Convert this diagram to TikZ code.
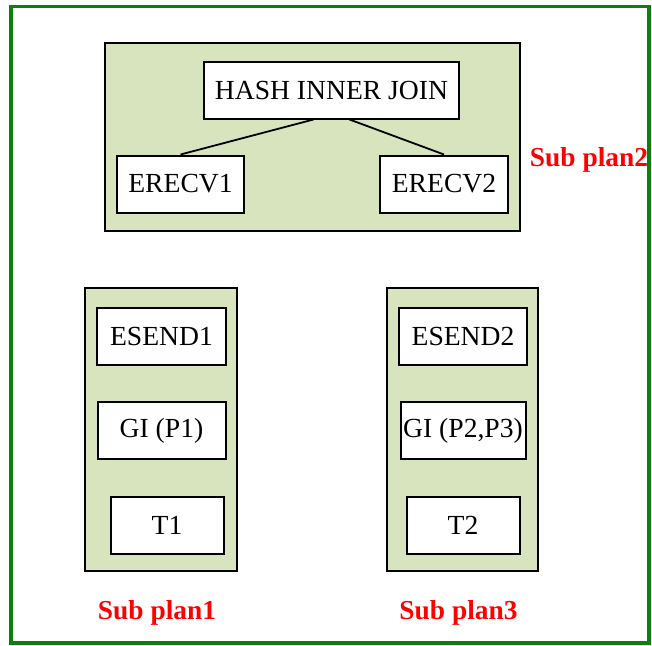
\documentclass[tikz,border=0pt]{standalone}
\usepackage{fontspec}
\setmainfont{Liberation Serif}

\definecolor{planfill}{RGB}{215,228,189}
\definecolor{framegreen}{RGB}{12,128,12}

\begin{document}
\begin{tikzpicture}[x=0.5pt,y=-0.5pt,node distance=47.25pt,
    box/.style={rectangle,draw,fill=white,line width=1pt,minimum height=28.5pt,inner sep=0pt,font=\fontsize{13.8}{16}\selectfont},
    plan/.style={draw,fill=planfill,line width=1pt},
    plantitle/.style={anchor=base,text=red,inner sep=0pt,font=\fontsize{13.7}{16}\selectfont\bfseries}]
                \useasboundingbox (0,0) rectangle (652,645);
                \draw[framegreen, line width=1.6pt] (11,6.5) rectangle (649,643);

                % the three sub plans
                \draw[plan] (105,43) rectangle (520,231);
                \draw[plan] (85,288) rectangle (237,571);
                \draw[plan] (387,288) rectangle (538,571);

                \node [box, minimum width=127.5pt](1) at (331.5,90){HASH INNER JOIN};
                \node [box, minimum width=63.5pt](2) at (180.5,184){ERECV1};
                \node [box, minimum width=64pt](3) at (444,184){ERECV2};

                \node [box, minimum width=64.5pt](4) at (161.5,336){ESEND1};
                \node [box, minimum width=64pt](5) [below of=4]{GI (P1)};
                \node [box, minimum width=56.5pt](6) [below of=5, xshift=2.75pt]{T1};

                \node [box, minimum width=64pt](7) at (463,336){ESEND2};
                \node [box, minimum width=62.5pt](8) [below of=7]{GI (P2,P3)};
                \node [box, minimum width=56.5pt](9) [below of=8]{T2};

                \node [plantitle](10) at (589,166.5){Sub plan2};
                \node [plantitle](11) at (157,619){Sub plan1};
                \node [plantitle](12) at (458.5,619){Sub plan3};

                \path[draw, line width=0.9pt]
                    ([xshift=-9pt]1.south) edge (2.north)
                    ([xshift=9pt]1.south) edge (3.north)
                    ;
            \end{tikzpicture}
\end{document}
